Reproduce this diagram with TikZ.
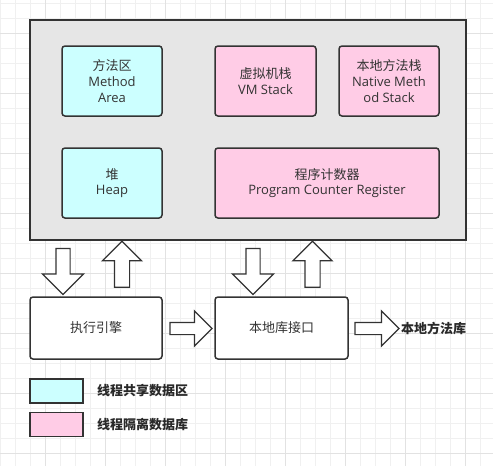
\documentclass[tikz,border=0pt]{standalone}
\usepackage{fontspec}
\setmainfont{Open Sans}
\newfontfamily\cjk{Noto Sans CJK SC}
\usetikzlibrary{shapes.arrows}
\definecolor{shared}{HTML}{CCFFFF}
\definecolor{isolated}{HTML}{FFCCE6}
\definecolor{areagray}{HTML}{E6E6E6}
\definecolor{edge}{HTML}{333333}
\definecolor{gridminor}{HTML}{F0F0F0}
\definecolor{gridmajor}{HTML}{E2E2E2}

\begin{document}
\begin{tikzpicture}[x=1pt,y=-1pt]
        \tikzstyle{region}=[draw=edge,line width=1.5pt,rounded corners=3pt,align=center,text=edge,inner sep=0pt,font=\fontsize{13}{15.7}\selectfont]
        \tikzstyle{shared region}=[region,fill=shared,minimum height=70pt]
        \tikzstyle{isolated region}=[region,fill=isolated,minimum height=70pt]
        \tikzstyle{unit}=[region,fill=white,minimum height=62pt]
        \tikzstyle{flow}=[single arrow,draw=edge,fill=white,line width=1.2pt,inner xsep=0pt,single arrow tip angle=90]
        \tikzstyle{key}=[draw=edge,line width=1.5pt,minimum width=53pt,minimum height=24pt,inner sep=0pt]
        \tikzstyle{annot}=[anchor=west,inner sep=0pt,text=edge!80!black,font=\fontsize{13}{15.7}\selectfont\cjk\bfseries]
        \useasboundingbox (0,0) rectangle (493,466);
        % background grid
        \foreach \x in {0,15,...,490}
            \draw[gridminor,line width=0.8pt] (\x,0) -- (\x,466);
        \foreach \y in {3,18,...,465}
            \draw[gridminor,line width=0.8pt] (0,\y) -- (493,\y);
        \foreach \x in {45,105,...,490}
            \draw[gridmajor,line width=0.8pt] (\x,0) -- (\x,466);
        \foreach \y in {33,93,...,465}
            \draw[gridmajor,line width=0.8pt] (0,\y) -- (493,\y);
        % runtime data area
        \node[draw=edge,line width=1.5pt,fill=areagray,minimum width=436pt,minimum height=220pt,inner sep=0pt] (rda) at (248,130) {};
        \node[shared region,minimum width=100pt] (method) at (112,81) {{\cjk 方法区}\\Method\\Area};
        \node[isolated region,minimum width=101pt] (vmstack) at (265.5,81) {{\cjk 虚拟机栈}\\VM Stack};
        \node[isolated region,minimum width=100pt] (nativestack) at (389,81) {{\cjk 本地方法栈}\\Native Meth\\od Stack};
        \node[shared region,minimum width=100pt] (heap) at (112,183) {{\cjk 堆}\\Heap};
        \node[isolated region,minimum width=224pt] (pc) at (327,183) {{\cjk 程序计数器}\\Program Counter Register};
        % engine and native interface
        \node[unit,minimum width=132pt] (engine) at (96,328) {\cjk 执行引擎};
        \node[unit,minimum width=133pt] (jni) at (281.5,328) {\cjk 本地库接口};
        \node[annot] (nativelib) at (401,328) {本地方法库};
        % block arrows
        \node[flow,rotate=-90,minimum height=46pt,inner ysep=6.5pt,single arrow head extend=13.5pt] (e-in) at (63,268) {};
        \node[flow,rotate=90,minimum height=46pt,inner ysep=7pt,single arrow head extend=12pt] (e-out) at (122,268) {};
        \node[flow,rotate=-90,minimum height=46pt,inner ysep=6.5pt,single arrow head extend=13.5pt] (j-in) at (253,268) {};
        \node[flow,rotate=90,minimum height=46pt,inner ysep=7pt,single arrow head extend=12pt] (j-out) at (312.5,268) {};
        \node[flow,minimum height=42pt,inner ysep=5.5pt,single arrow head extend=11.5pt] (e-j) at (188,328.5) {};
        \node[flow,minimum height=44pt,inner ysep=5.5pt,single arrow head extend=11.5pt] (j-lib) at (374,328.5) {};
        % legend
        \node[key,fill=shared] (key-shared) at (56.5,391) {};
        \node[key,fill=isolated] (key-isolated) at (56.5,424.5) {};
        \node[annot] at (97,391) {线程共享数据区};
        \node[annot] at (97,424.5) {线程隔离数据库};
    \end{tikzpicture}
\end{document}
